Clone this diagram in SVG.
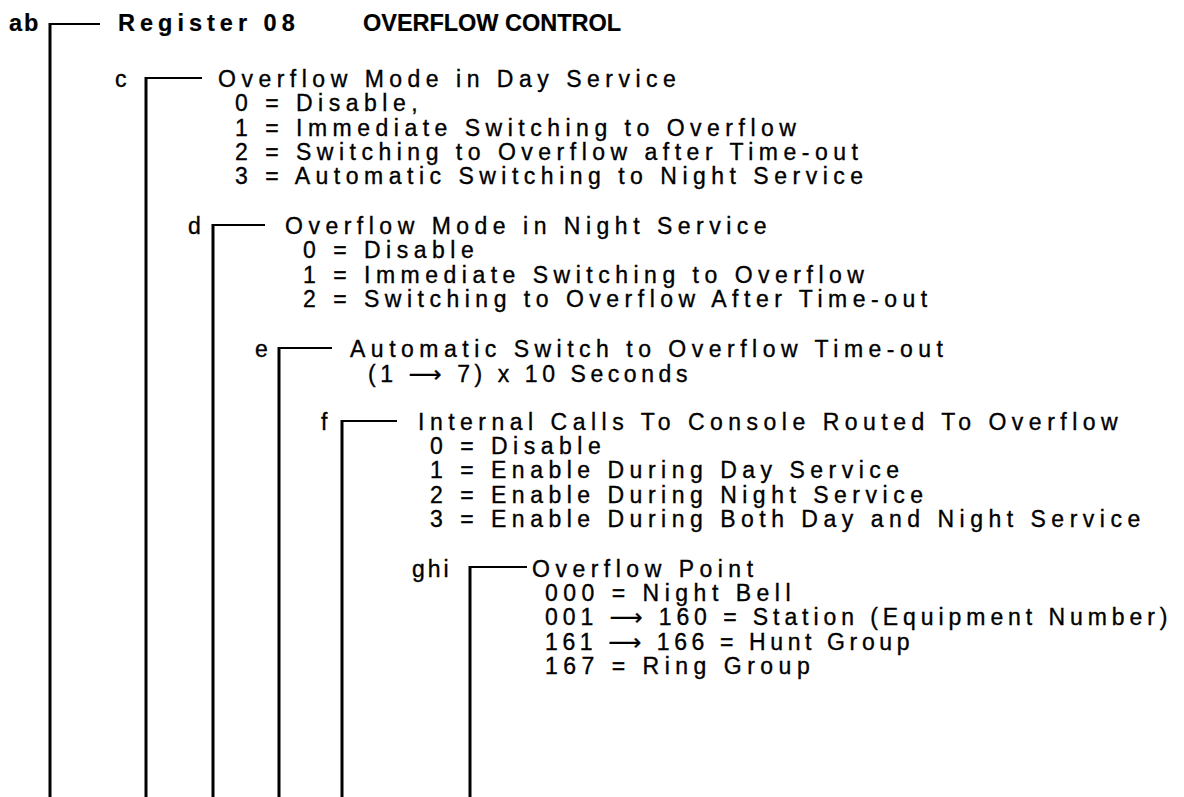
<svg xmlns="http://www.w3.org/2000/svg" width="1184" height="797" viewBox="0 0 1184 797">
<style>
text{font-family:"Liberation Sans","DejaVu Sans",Arial,sans-serif;font-size:23px;letter-spacing:5.5px;fill:#000;stroke:#000;stroke-width:0.35}
.b{font-weight:bold;font-size:23.5px;stroke-width:0.2}
.n{letter-spacing:0}
.v{stroke:#000;stroke-width:3;fill:none}
.h{stroke:#000;stroke-width:2.2;fill:none}
</style>
<rect width="1184" height="797" fill="#fff"/>
<g id="connectors">
<path class="v" d="M50,23V797"/><path class="h" d="M49,24H100"/>
<path class="v" d="M146,77V797"/><path class="h" d="M145,78H202"/>
<path class="v" d="M213,224V797"/><path class="h" d="M212,225H265"/>
<path class="v" d="M279,347V797"/><path class="h" d="M278,348H332"/>
<path class="v" d="M342,420V797"/><path class="h" d="M341,421H397"/>
<path class="v" d="M470,566V797"/><path class="h" d="M469,567H527"/>
</g>
<g id="ab">
<text class="b" x="9" y="31" style="letter-spacing:2px">ab</text>
<text class="b" x="118" y="31" style="letter-spacing:5px">Register 08</text>
<text class="b n" x="363" y="31" textLength="258">OVERFLOW CONTROL</text>
</g>
<g id="c">
<text x="115" y="87">c</text>
<text x="218" y="87">Overflow Mode in Day Service</text>
<text x="235" y="111">0 = Disable,</text>
<text x="235" y="136">1 = Immediate Switching to Overflow</text>
<text x="235" y="160">2 = Switching to Overflow after Time-out</text>
<text x="235" y="184">3 = Automatic Switching to Night Service</text>
</g>
<g id="d">
<text x="188" y="234">d</text>
<text x="285" y="234">Overflow Mode in Night Service</text>
<text x="303" y="258">0 = Disable</text>
<text x="303" y="283">1 = Immediate Switching to Overflow</text>
<text x="303" y="307">2 = Switching to Overflow After Time-out</text>
</g>
<g id="e">
<text x="255" y="357">e</text>
<text x="350" y="357">Automatic Switch to Overflow Time-out</text>
<text x="368" y="382" textLength="325">(1 ⟶ 7) x 10 Seconds</text>
</g>
<g id="f">
<text x="321" y="430">f</text>
<text x="418" y="430">Internal Calls To Console Routed To Overflow</text>
<text x="430" y="454">0 = Disable</text>
<text x="430" y="478">1 = Enable During Day Service</text>
<text x="430" y="503">2 = Enable During Night Service</text>
<text x="430" y="527">3 = Enable During Both Day and Night Service</text>
</g>
<g id="ghi">
<text x="412" y="577" style="letter-spacing:3px">ghi</text>
<text x="532" y="577">Overflow Point</text>
<text x="545" y="601">000 =  Night Bell</text>
<text x="545" y="625" textLength="628">001 ⟶ 160 = Station (Equipment Number)</text>
<text x="545" y="650" textLength="370">161 ⟶ 166 = Hunt Group</text>
<text x="545" y="674">167 = Ring Group</text>
</g>
</svg>
